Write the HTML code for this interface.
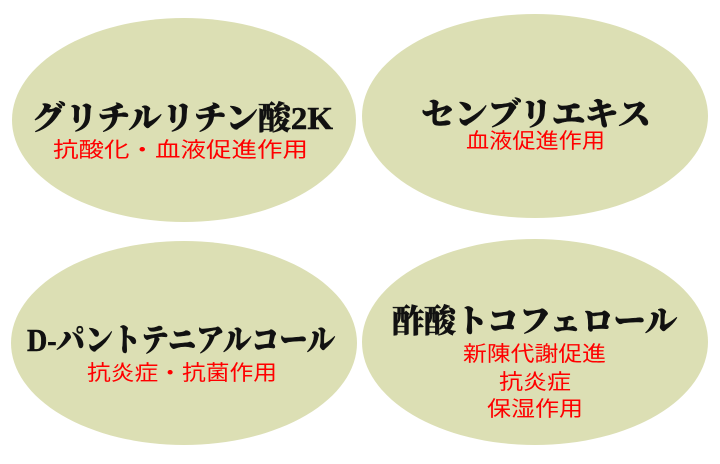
<!DOCTYPE html>
<html><head><meta charset="utf-8"><style>
html,body{margin:0;padding:0;background:#fff;width:720px;height:464px;overflow:hidden}
.t{font-family:"Liberation Serif","Noto Serif CJK SC","Noto Serif CJK JP",serif;font-weight:900;font-size:32px;fill:#111;stroke:#111;stroke-width:0.5}
.r{font-family:"Liberation Sans","Noto Sans CJK JP",sans-serif;font-size:21px;fill:#f00}
</style></head><body>
<svg width="720" height="464" viewBox="0 0 720 464">
<g fill="#dcdfb4">
<ellipse cx="184" cy="120" rx="172" ry="102"/>
<ellipse cx="535" cy="116" rx="173" ry="102"/>
<ellipse cx="184" cy="343" rx="173" ry="102"/>
<ellipse cx="535" cy="342" rx="173" ry="103"/>
</g>
<text class="t" x="32" y="129" textLength="301" lengthAdjust="spacingAndGlyphs">グリチルリチン酸2K</text>
<text class="r" x="53" y="157" textLength="255" lengthAdjust="spacingAndGlyphs">抗酸化・血液促進作用</text>
<text class="t" x="421" y="125" textLength="230" lengthAdjust="spacingAndGlyphs">センブリエキス</text>
<text class="r" x="466" y="148" textLength="139" lengthAdjust="spacingAndGlyphs">血液促進作用</text>
<text class="t" x="27" y="351" textLength="308" lengthAdjust="spacingAndGlyphs">D-パントテニアルコール</text>
<text class="r" x="87" y="380" textLength="190" lengthAdjust="spacingAndGlyphs">抗炎症・抗菌作用</text>
<text class="t" x="392" y="332" textLength="285" lengthAdjust="spacingAndGlyphs">酢酸トコフェロール</text>
<text class="r" x="463" y="361" textLength="143" lengthAdjust="spacingAndGlyphs">新陳代謝促進</text>
<text class="r" x="499" y="389" textLength="72" lengthAdjust="spacingAndGlyphs">抗炎症</text>
<text class="r" x="487" y="416" textLength="96" lengthAdjust="spacingAndGlyphs">保湿作用</text>
</svg>
</body></html>
